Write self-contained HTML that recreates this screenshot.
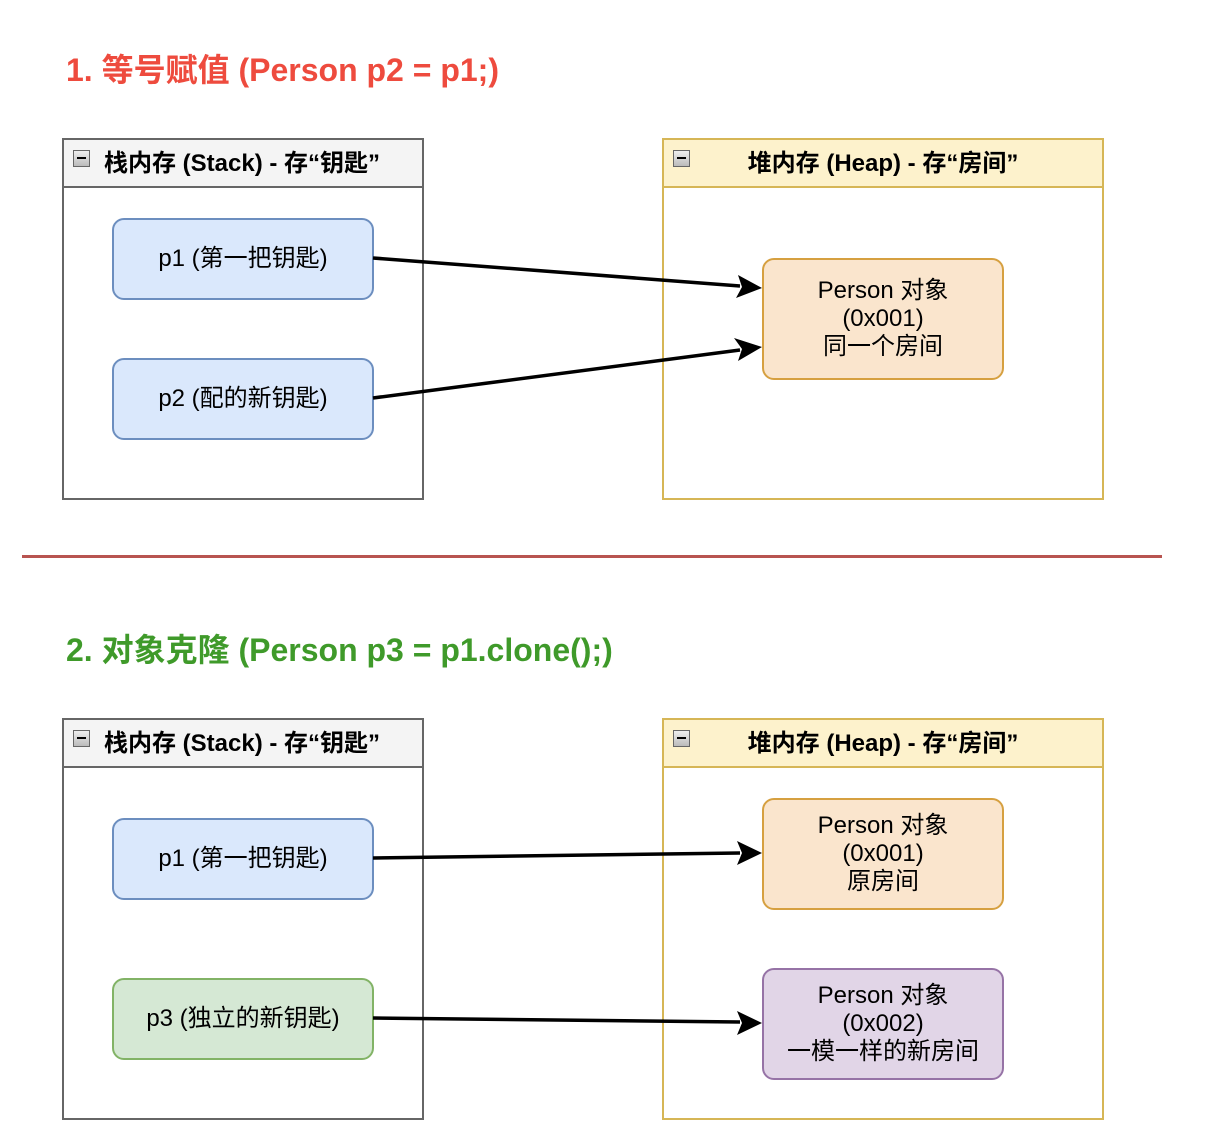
<!DOCTYPE html>
<html><head><meta charset="utf-8"><style>
body{margin:0;width:1231px;height:1147px;background:#fff;position:relative;font-family:"Liberation Sans","Noto Sans CJK SC",sans-serif;overflow:hidden}
.a{position:absolute;box-sizing:border-box}
.t{font-size:32px;font-weight:bold;white-space:nowrap}
.c{border:2px solid #666;}
.h{height:46px;border-bottom:2px solid #666;font-size:24px;font-weight:bold;line-height:48px;white-space:nowrap}
.m{position:absolute;left:9px;top:10px;width:17px;height:17px;border:1px solid #666;background:linear-gradient(#eee,#bbb);box-sizing:border-box}
.m:after{content:"";position:absolute;left:3px;top:6px;width:9px;height:2px;background:#000}
.n{border-radius:12px;border:2px solid;display:flex;align-items:center;justify-content:center;text-align:center;font-size:24px;line-height:28px}
.s{background:#dae8fc;border-color:#6c8ebf}
.o{background:#fae5cd;border-color:#d6a040}
</style></head><body>
<div class="a t" style="left:66px;top:45px;color:#ee4b3e">1. 等号赋值 (Person p2 = p1;)</div>
<div class="a t" style="left:66px;top:625px;color:#3f9a2a">2. 对象克隆 (Person p3 = p1.clone();)</div>
<div class="a" style="left:22px;top:555px;width:1140px;height:3px;background:#b85450"></div>

<div class="a c" style="left:62px;top:138px;width:362px;height:362px"><div class="h" style="background:#f4f4f4;padding-left:40px;position:relative"><span class="m"></span>栈内存 (Stack) - 存“钥匙”</div></div>
<div class="a c" style="left:662px;top:138px;width:442px;height:362px;border-color:#d6b656"><div class="h" style="background:#fdf2cc;border-color:#d6b656;text-align:center;position:relative"><span class="m"></span>堆内存 (Heap) - 存“房间”</div></div>
<div class="a c" style="left:62px;top:718px;width:362px;height:402px"><div class="h" style="background:#f4f4f4;padding-left:40px;position:relative"><span class="m"></span>栈内存 (Stack) - 存“钥匙”</div></div>
<div class="a c" style="left:662px;top:718px;width:442px;height:402px;border-color:#d6b656"><div class="h" style="background:#fdf2cc;border-color:#d6b656;text-align:center;position:relative"><span class="m"></span>堆内存 (Heap) - 存“房间”</div></div>

<div class="a n s" style="left:112px;top:218px;width:262px;height:82px">p1 (第一把钥匙)</div>
<div class="a n s" style="left:112px;top:358px;width:262px;height:82px">p2 (配的新钥匙)</div>
<div class="a n o" style="left:762px;top:258px;width:242px;height:122px">Person 对象<br>(0x001)<br>同一个房间</div>

<div class="a n s" style="left:112px;top:818px;width:262px;height:82px">p1 (第一把钥匙)</div>
<div class="a n" style="left:112px;top:978px;width:262px;height:82px;background:#d5e8d4;border-color:#82b366">p3 (独立的新钥匙)</div>
<div class="a n o" style="left:762px;top:798px;width:242px;height:112px">Person 对象<br>(0x001)<br>原房间</div>
<div class="a n" style="left:762px;top:968px;width:242px;height:112px;background:#e1d5e7;border-color:#9673a6">Person 对象<br>(0x002)<br>一模一样的新房间</div>

<svg class="a" style="left:0;top:0" width="1231" height="1147">
<g stroke="#000" stroke-width="3.5" fill="none">
<line x1="373" y1="258" x2="740" y2="286"/>
<line x1="373" y1="398" x2="740" y2="350"/>
<line x1="373" y1="858" x2="740" y2="853"/>
<line x1="373" y1="1018" x2="740" y2="1022"/>
</g>
<g fill="#000">
<path d="M762,288 L736,298 L742,287 L738,275 Z"/>
<path d="M762,347 L738,361 L742,349 L734,338 Z"/>
<path d="M762,853 L737,865 L742,853 L737,841 Z"/>
<path d="M762,1023 L737,1035 L742,1023 L737,1011 Z"/>
</g>
</svg>
</body></html>
